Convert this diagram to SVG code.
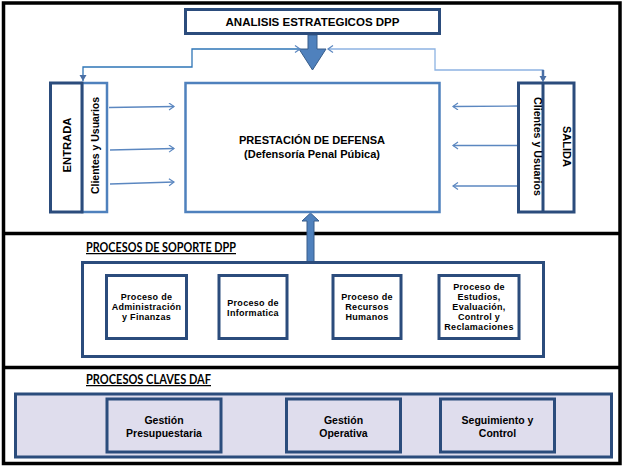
<svg xmlns="http://www.w3.org/2000/svg" width="626" height="468" viewBox="0 0 626 468">
<defs>
<style>
.frame{fill:none;stroke:#000;stroke-width:3.5}
.div{stroke:#000;stroke-width:3.5}
.navy{fill:#fff;stroke:#2B4C7C;stroke-width:3}
.light{fill:#fff;stroke:#4F81BD;stroke-width:2.5}
.lav{fill:#DFDDED;stroke:#2B4C7C;stroke-width:3}
.big{fill:#4F81BD;stroke:#385D8A;stroke-width:1}
.thin{fill:none;stroke-width:1.3}
.t{font-family:"Liberation Sans",Arial,sans-serif;font-weight:bold;fill:#000;text-anchor:middle}
.h{font-family:Lato,"Liberation Sans",sans-serif;font-weight:bold;fill:#000;font-size:12.5px;text-decoration:underline}
.s{font-size:9px;letter-spacing:0.3px}
.k{font-size:10.5px}
</style>
<marker id="chev" markerUnits="userSpaceOnUse" markerWidth="8" markerHeight="9" refX="6" refY="4" orient="auto" viewBox="0 0 8 9">
<path d="M1,0.5 L6,4 L1,7.5" fill="none" stroke="#5B87C0" stroke-width="1.2"/>
</marker>
<marker id="down" markerUnits="userSpaceOnUse" markerWidth="8" markerHeight="8" refX="6" refY="4" orient="auto-start-reverse" viewBox="0 0 8 8">
<path d="M0,0.5 L6,4 L0,7.5 Z" fill="#4A6FA5"/>
</marker>
</defs>

<rect class="frame" x="3.5" y="3" width="616.5" height="460.5"/>
<line class="div" x1="3.5" y1="233.5" x2="620" y2="233.5"/>
<line class="div" x1="3.5" y1="367.5" x2="620" y2="367.5"/>

<g id="connectors">
<polygon class="big" points="308,35 317,35 317,49 326,49 312.5,70 299,49 308,49"/>
<polygon class="big" points="307,262 314,262 314,221 319,221 310.5,213 302,221 307,221"/>
<path class="thin" d="M83,81 V67 H192 V49 H300" style="stroke:#2E75B6" marker-end="url(#chev)" marker-start="url(#down)"/>
<path class="thin" d="M543,82 V70 H435 V49 H328" style="stroke:#8DB3E2" marker-end="url(#chev)" marker-start="url(#down)"/>
<line x1="543" y1="70" x2="543" y2="80" stroke="#4A6FA5" stroke-width="2.5"/>
<path class="thin" d="M109,107.5 L174,106.5" style="stroke:#5B87C0" marker-end="url(#chev)"/>
<path class="thin" d="M110,150 L174,148.5" style="stroke:#5B87C0" marker-end="url(#chev)"/>
<path class="thin" d="M110,184 L174,182" style="stroke:#5B87C0" marker-end="url(#chev)"/>
<path class="thin" d="M518,106 L453,106.5" style="stroke:#5B87C0" marker-end="url(#chev)"/>
<path class="thin" d="M518,145.5 L453,145.5" style="stroke:#5B87C0" marker-end="url(#chev)"/>
<path class="thin" d="M518,186 L453,186" style="stroke:#5B87C0" marker-end="url(#chev)"/>
</g>

<g id="analisis">
<rect class="navy" x="185.5" y="9.5" width="254" height="24"/>
<text class="t" x="312.5" y="26" font-size="10.5" textLength="174" lengthAdjust="spacingAndGlyphs">ANALISIS ESTRATEGICOS DPP</text>
</g>

<g id="entrada">
<rect class="light" x="82" y="83" width="25" height="129"/>
<rect class="navy" x="50.5" y="83" width="31.5" height="129" fill="none"/>
<text class="t" transform="translate(67,145) rotate(-90)" y="4" font-size="11" textLength="55" lengthAdjust="spacingAndGlyphs">ENTRADA</text>
<text class="t" transform="translate(94.5,145.5) rotate(-90)" y="4" font-size="10.5" textLength="97" lengthAdjust="spacingAndGlyphs">Clientes y Usuarios</text>
</g>

<g id="prestacion">
<rect class="light" x="185.5" y="83" width="254" height="129"/>
<text class="t" x="312" y="144" font-size="11" textLength="146" lengthAdjust="spacingAndGlyphs">PRESTACIÓN DE DEFENSA</text>
<text class="t" x="312" y="158" font-size="11" textLength="136" lengthAdjust="spacingAndGlyphs">(Defensoría Penal Púbica)</text>
</g>

<g id="salida">
<rect class="navy" x="518.5" y="83" width="55.5" height="129"/>
<line x1="543" y1="83" x2="543" y2="212" stroke="#2B4C7C" stroke-width="3"/>
<text class="t" transform="translate(530,146.5) rotate(90)" y="-4" font-size="10.5" textLength="99" lengthAdjust="spacingAndGlyphs">Clientes y Usuarios</text>
<text class="t" transform="translate(559,146.5) rotate(90)" y="-4" font-size="11" textLength="41" lengthAdjust="spacingAndGlyphs">SALIDA</text>
</g>

<g id="soporte">
<text class="h" x="86" y="252" textLength="150" lengthAdjust="spacingAndGlyphs">PROCESOS DE SOPORTE DPP</text>
<rect class="navy" x="82.5" y="262.5" width="461" height="94"/>
</g>

<g id="admin">
<rect class="navy" x="106.5" y="275.5" width="80" height="63"/>
<text class="t s" x="146.5" y="300">Proceso de</text>
<text class="t s" x="146.5" y="310">Administración</text>
<text class="t s" x="146.5" y="320">y Finanzas</text>
</g>

<g id="informatica">
<rect class="navy" x="219" y="275.5" width="68" height="63"/>
<text class="t s" x="253" y="306">Proceso de</text>
<text class="t s" x="253" y="316">Informatica</text>
</g>

<g id="recursos">
<rect class="navy" x="333" y="275.5" width="68" height="63"/>
<text class="t s" x="367" y="300">Proceso de</text>
<text class="t s" x="367" y="310">Recursos</text>
<text class="t s" x="367" y="320">Humanos</text>
</g>

<g id="estudios">
<rect class="navy" x="439" y="275.5" width="80" height="63"/>
<text class="t s" x="479" y="290">Proceso de</text>
<text class="t s" x="479" y="300">Estudios,</text>
<text class="t s" x="479" y="310">Evaluación,</text>
<text class="t s" x="479" y="320">Control y</text>
<text class="t s" x="479" y="330">Reclamaciones</text>
</g>

<g id="claves">
<text class="h" x="86" y="384" textLength="125" lengthAdjust="spacingAndGlyphs">PROCESOS CLAVES DAF</text>
<rect class="lav" x="15.5" y="394" width="596" height="63"/>
</g>

<g id="presupuestaria">
<rect class="lav" x="107" y="399" width="114" height="53"/>
<text class="t k" x="164" y="424">Gestión</text>
<text class="t k" x="164" y="437">Presupuestaria</text>
</g>

<g id="operativa">
<rect class="lav" x="286.5" y="399" width="114" height="53"/>
<text class="t k" x="343.5" y="424">Gestión</text>
<text class="t k" x="343.5" y="437">Operativa</text>
</g>

<g id="seguimiento">
<rect class="lav" x="440.5" y="399" width="114" height="53"/>
<text class="t k" x="497.5" y="424">Seguimiento y</text>
<text class="t k" x="497.5" y="437">Control</text>
</g>
</svg>
